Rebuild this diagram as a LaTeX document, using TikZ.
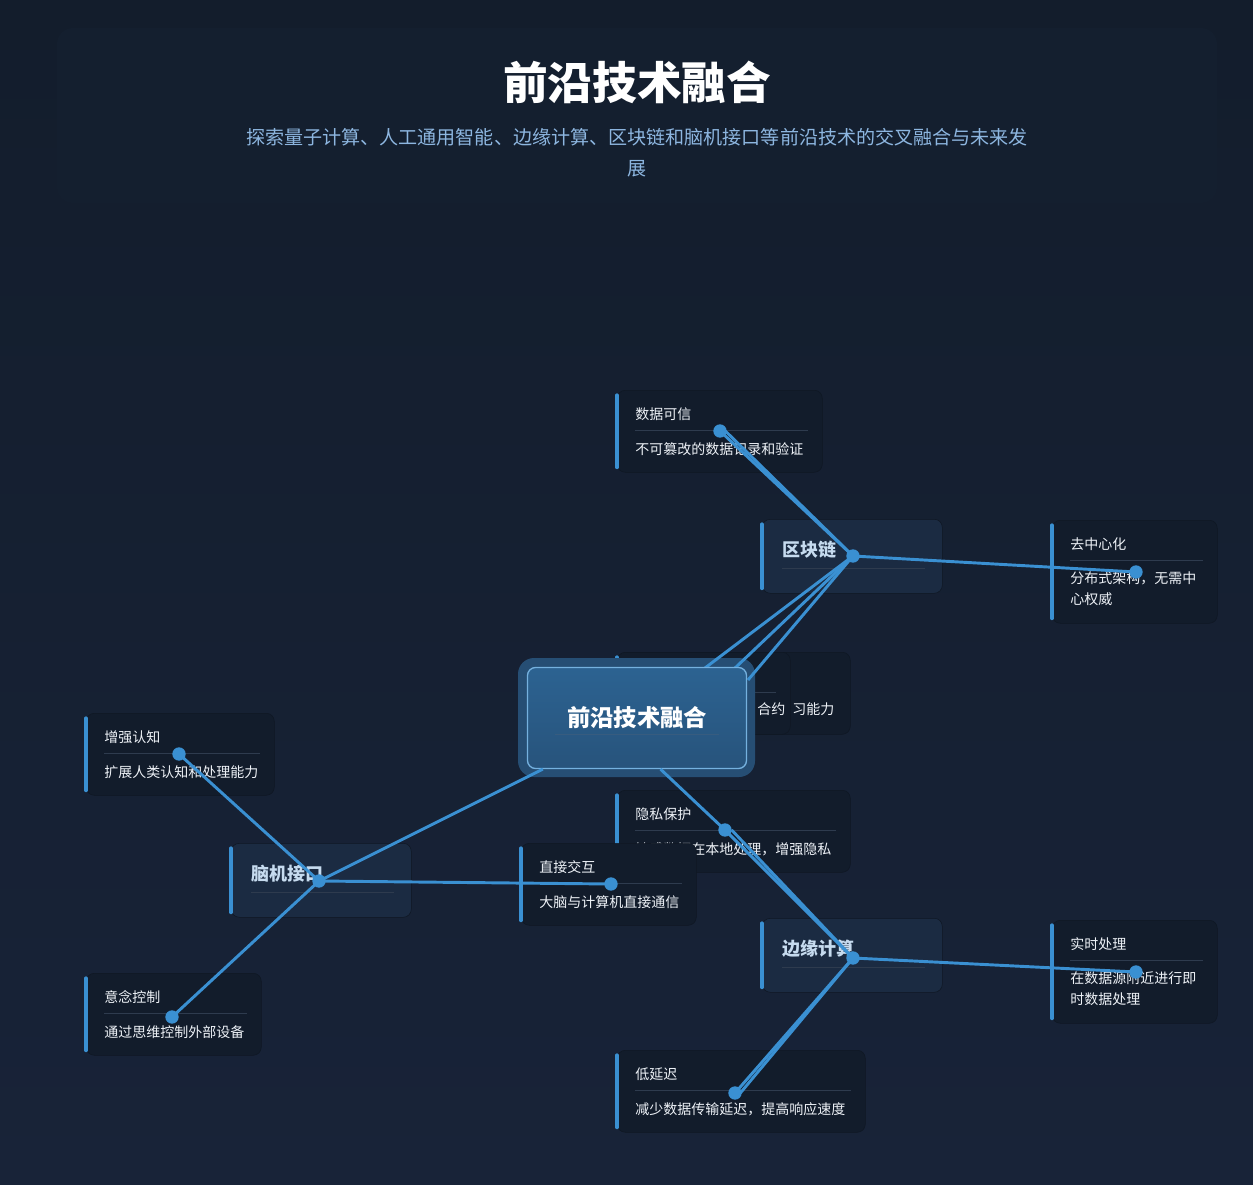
\documentclass[tikz,border=0pt]{standalone}
\usepackage{fontspec}
\setmainfont{Noto Sans CJK SC}
\usetikzlibrary{positioning,calc}

\definecolor{bgdark}{HTML}{131D2C}
\definecolor{bglow}{HTML}{182338}
\definecolor{cardfill}{HTML}{121C2B}
\definecolor{hubfill}{HTML}{1B2B42}
\definecolor{linkblue}{HTML}{3A90D2}
\definecolor{subblue}{HTML}{8DB6E0}
\definecolor{cardtext}{HTML}{EEF2F7}
\definecolor{rulegray}{HTML}{2E3B4E}

\newcommand\px{0.75pt}

\tikzset{
  card/.style={draw=black!20!bgdark,fill=cardfill,rounded corners=6,anchor=north west,inner sep=0},
  hub/.style={card,fill=hubfill},
  bar/.style={draw=linkblue,line width=3,line cap=round},
  link/.style={draw=linkblue,line width=2.2},
  dot/.style={circle,fill=linkblue,inner sep=0,minimum size=10},
  cardtitle/.style={anchor=west,inner sep=0,text=cardtext,font=\fontsize{10.5}{14}\selectfont},
  carddesc/.style={anchor=north west,inner sep=0,text=cardtext,align=left,font=\fontsize{10.5}{16}\selectfont},
  hubtitle/.style={anchor=west,inner sep=0,text=subblue!50!white,font=\fontsize{13.5}{16}\selectfont\bfseries},
}

% name, x, y, width, height, title
\newcommand\infocard[6]{%
  \node[card,minimum width=#4*\px,minimum height=#5*\px] (#1) at (#2,#3) {};
  \draw[bar] ([yshift=-4]#1.north west) -- ([yshift=4]#1.south west);
  \node[cardtitle] (#1-t) at ($(#1.north west)+(18,24)$) {#6};
  \draw[rulegray] ($(#1.north west)+(18,40)$) -- ($(#1.north east)+(-15,40)$);
}
\newcommand\hubcard[4]{%
  \node[hub,minimum width=180*\px,minimum height=74*\px] (#1) at (#2,#3) {};
  \draw[bar] ([yshift=-4]#1.north west) -- ([yshift=4]#1.south west);
  \node[hubtitle] (#1-t) at ($(#1.north west)+(20,31)$) {#4};
  \draw[rulegray] ($(#1.north west)+(20,49)$) -- ($(#1.north east)+(-18,49)$);
}

\begin{document}
\begin{tikzpicture}[x=0.75pt,y=-0.75pt]
  \shade[top color=bgdark,bottom color=bglow] (0,0) rectangle (1253,1185);
  \useasboundingbox (0,0) rectangle (1253,1185);

  % header
  \fill[bgdark!85!hubfill,rounded corners=12] (57,28) rectangle (1217,203);
  \node[text=white,font=\fontsize{33.5}{38}\selectfont\bfseries] (title) at (637,82) {前沿技术融合};
  \node[text=subblue,align=center,font=\fontsize{14.3}{23}\selectfont] (subtitle) at (637,153)
    {探索量子计算、人工通用智能、边缘计算、区块链和脑机接口等前沿技术的交叉融合与未来发\\展};

  % cards behind the centre
  \node[card,minimum width=230*\px,minimum height=82*\px] (learn) at (620,652) {};
  \node[cardtitle] at ($(learn.north west)+(172,57)$) {习能力};
  \infocard{contract}{617}{652}{173}{82}{}
  \node[cardtitle] at ($(contract.north west)+(140,57)$) {合约};

  % outer cards
  \infocard{trust}{617}{390}{205}{82}{数据可信}
  \node[carddesc] at ($(trust.north west)+(18,52)$) {不可篡改的数据记录和验证};
  \infocard{decentral}{1052}{520}{165}{103}{去中心化}
  \node[carddesc] at ($(decentral.north west)+(18,51)$) {分布式架构，无需中\\心权威};
  \infocard{enhance}{86}{713}{188}{82}{增强认知}
  \node[carddesc] at ($(enhance.north west)+(18,52)$) {扩展人类认知和处理能力};
  \infocard{privacy}{617}{790}{233}{82}{隐私保护}
  \node[carddesc] at ($(privacy.north west)+(18,52)$) {敏感数据在本地处理，增强隐私};
  \infocard{direct}{521}{843}{175}{82}{直接交互}
  \node[carddesc] at ($(direct.north west)+(18,52)$) {大脑与计算机直接通信};
  \infocard{mind}{86}{973}{175}{82}{意念控制}
  \node[carddesc] at ($(mind.north west)+(18,52)$) {通过思维控制外部设备};
  \infocard{realtime}{1052}{920}{165}{103}{实时处理}
  \node[carddesc] at ($(realtime.north west)+(18,51)$) {在数据源附近进行即\\时数据处理};
  \infocard{latency}{617}{1050}{248}{82}{低延迟}
  \node[carddesc] at ($(latency.north west)+(18,52)$) {减少数据传输延迟，提高响应速度};

  % hubs
  \hubcard{chain}{762}{519}{区块链}
  \hubcard{brain}{231}{843}{脑机接口}
  \hubcard{edge}{762}{918}{边缘计算}

  % dots
  \node[dot] (chain-d) at (853,556) {};
  \node[dot] (brain-d) at (319,881) {};
  \node[dot] (edge-d) at (853,958) {};
  \node[dot] (trust-d) at (720,431) {};
  \node[dot] (decentral-d) at (1136,572) {};
  \node[dot] (enhance-d) at (179,754) {};
  \node[dot] (privacy-d) at (725,830) {};
  \node[dot] (direct-d) at (611,884) {};
  \node[dot] (mind-d) at (172,1017) {};
  \node[dot] (realtime-d) at (1136,972) {};
  \node[dot] (latency-d) at (735,1093) {};

  % links
  \draw[link] (chain-d.center) -- (trust-d.center);
  \draw[link] (chain-d.center) -- ([xshift=4]trust-d.center);
  \draw[link] (chain-d.center) -- (decentral-d.center);
  \draw[link] (brain-d.center) -- (enhance-d.center);
  \draw[link] (brain-d.center) -- (mind-d.center);
  \draw[link] (brain-d.center) -- (direct-d.center);
  \draw[link] (edge-d.center) -- (privacy-d.center);
  \draw[link] (edge-d.center) -- ([xshift=5]privacy-d.center);
  \draw[link] (edge-d.center) -- (realtime-d.center);
  \draw[link] (edge-d.center) -- (latency-d.center);
  \draw[link] (edge-d.center) -- ([xshift=4]latency-d.center);

  % centre node
  \fill[linkblue!35!hubfill,rounded corners=12] (518,658) rectangle (755,777);
  \coordinate (c1) at (705,668);
  \coordinate (c2) at (735,668);
  \coordinate (c3) at (748,680);
  \draw[link] (chain-d.center) -- (c1);
  \draw[link] (chain-d.center) -- (c2);
  \draw[link] (chain-d.center) -- (c3);
  \node[draw=linkblue!70!white,line width=1,rounded corners=6,top color=linkblue!55!hubfill,bottom color=linkblue!40!hubfill,
        minimum width=219*\px,minimum height=101*\px,text=white,font=\fontsize{17.5}{20}\selectfont\bfseries]
        (core) at (637,718) {前沿技术融合};
  \draw[white!20!linkblue!40!hubfill] ($(core.west)+(28,16)$) -- ($(core.east)+(-28,16)$);
  \draw[link] (core.south west) ++(16,0) coordinate (cb) (cb) -- (brain-d.center);
  \draw[link] ([xshift=-65]core.south east) -- (privacy-d.center);
\end{tikzpicture}
\end{document}
